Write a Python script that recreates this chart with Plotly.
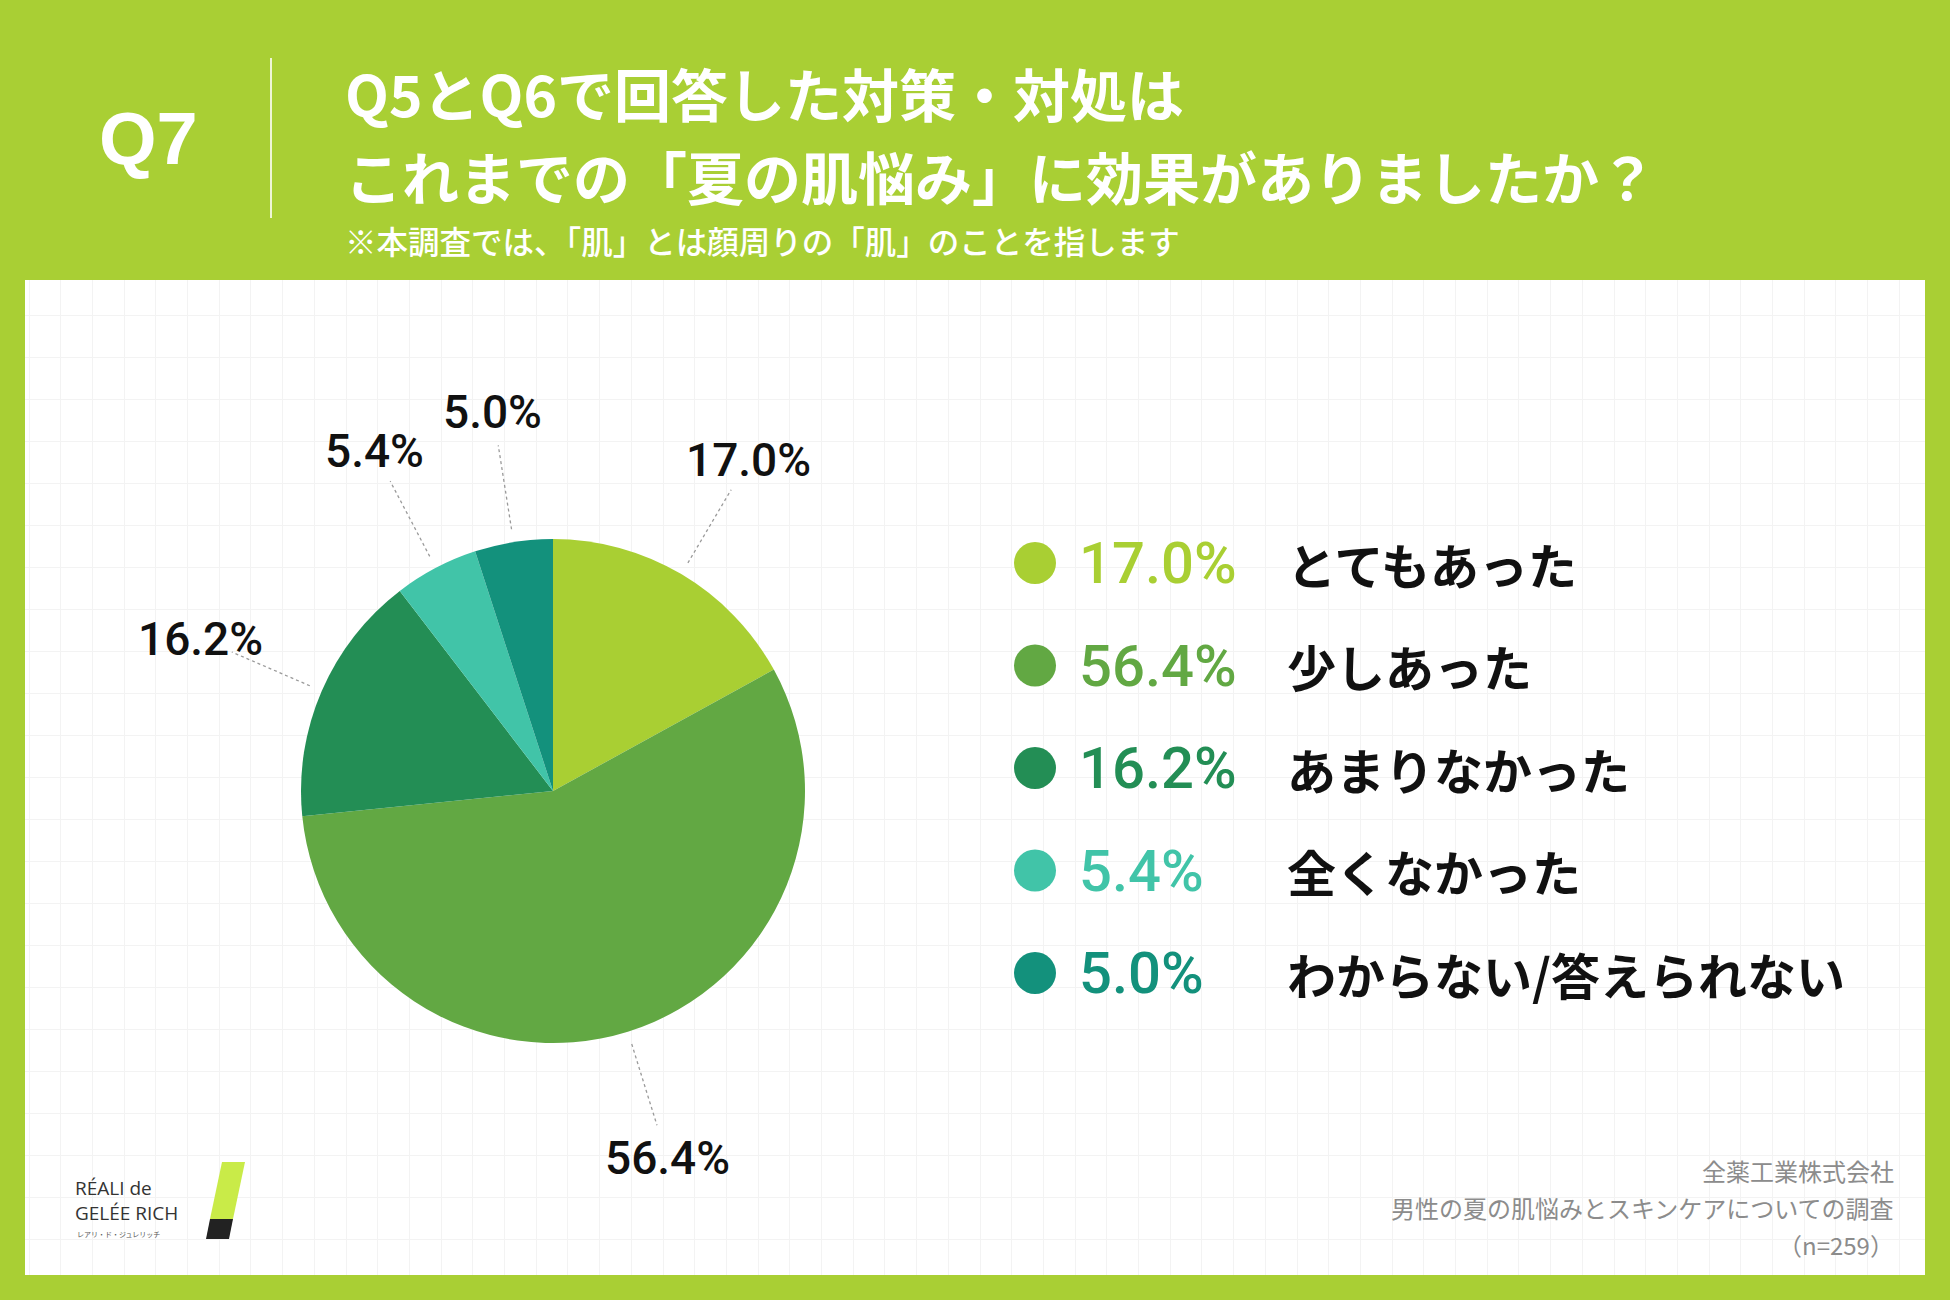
import math
import plotly.graph_objects as go

W, H = 1950, 1300

# data
categories = ["とてもあった", "少しあった", "あまりなかった", "全くなかった", "わからない/答えられない"]
values = [17.0, 56.4, 16.2, 5.4, 5.0]
colors = ["#A9CF33", "#62A843", "#238E55", "#41C4A8", "#13917C"]

title_q = "Q7"
title_lines = ["Q5とQ6で回答した対策・対処は", "これまでの「夏の肌悩み」に効果がありましたか？"]
subtitle = "※本調査では、「肌」とは顔周りの「肌」のことを指します"
footer_lines = ["全薬工業株式会社", "男性の夏の肌悩みとスキンケアについての調査", "（n=259）"]

BG = "#A9CF34"
JP = "Noto Sans CJK JP"
NUM = "Roboto"


def px(x):
    return x / W


def py(y):
    return 1 - y / H


# pie geometry in pixels
cx, cy, R = 553, 791, 252

fig = go.Figure()

fig.add_trace(go.Pie(
    values=values,
    labels=categories,
    marker=dict(colors=colors),
    sort=False,
    direction="clockwise",
    rotation=0,
    textinfo="none",
    hoverinfo="label+percent",
    showlegend=False,
    domain=dict(x=[px(cx - R), px(cx + R)], y=[py(cy + R), py(cy - R)]),
))

# outside labels with dotted leader lines
annotations = []
total = sum(values)
lx, ly = [], []
cum = 0
for v in values:
    mid = (cum + v / 2) / total * 2 * math.pi
    cum += v
    s, c = math.sin(mid), math.cos(mid)
    lx += [cx + 265 * s, cx + 350 * s, None]
    ly += [cy - 265 * c, cy - 350 * c, None]
    annotations.append(dict(
        x=cx + 384 * s, y=cy - 384 * c, xref="x", yref="y",
        xanchor="center", yanchor="middle",
        text=f"{v:.1f}%", showarrow=False,
        font=dict(family=NUM, size=46, color="#111111", weight=500),
    ))
fig.add_trace(go.Scatter(
    x=lx, y=ly, mode="lines",
    line=dict(color="#9a9a9a", width=1.3, dash="dot"),
    hoverinfo="skip", showlegend=False,
))

# legend on the right
row_y = [563 + i * 102.5 for i in range(len(categories))]
fig.add_trace(go.Scatter(
    x=[1035] * len(categories), y=row_y, mode="markers",
    marker=dict(size=42, color=colors, line=dict(width=0)),
    hoverinfo="skip", showlegend=False,
))
for cat, v, col, y in zip(categories, values, colors, row_y):
    annotations.append(dict(
        x=1077, y=y, xref="x", yref="y", xanchor="left", yanchor="middle",
        text=f"{v:.1f}%", showarrow=False,
        font=dict(family=NUM, size=58, color=col, weight=500),
    ))
    annotations.append(dict(
        x=1285, y=y, xref="x", yref="y", xanchor="left", yanchor="middle",
        text=cat, showarrow=False,
        font=dict(family=JP, size=49, color="#111111", weight="bold"),
    ))

# header
annotations.append(dict(
    x=px(148), y=py(138), xref="paper", yref="paper", xanchor="center", yanchor="middle",
    text=title_q, showarrow=False,
    font=dict(family="Liberation Sans", size=74, color="white", weight="bold"),
))
for y, line in zip([92, 175], title_lines):
    annotations.append(dict(
        x=px(344), y=py(y), xref="paper", yref="paper", xanchor="left", yanchor="middle",
        text=line, showarrow=False, borderpad=0,
        font=dict(family=JP, size=57, color="white", weight="bold"),
    ))
annotations.append(dict(
    x=px(344), y=py(240), xref="paper", yref="paper", xanchor="left", yanchor="middle",
    text=subtitle, showarrow=False, borderpad=0,
    font=dict(family=JP, size=31.5, color="white", weight=500),
))

# footer
for i, line in enumerate(footer_lines):
    annotations.append(dict(
        x=1895, y=1170 + i * 37, xref="x", yref="y", xanchor="right", yanchor="middle",
        text=line, showarrow=False, borderpad=0,
        font=dict(family=JP, size=24, color="#8c8c8c"),
    ))

# logo
annotations.append(dict(x=74, y=1200, xref="x", yref="y", xanchor="left", yanchor="middle",
                        text="RÉALI de<br>GELÉE RICH", align="left", showarrow=False, borderpad=0,
                        font=dict(family="Open Sans", size=19, color="#333333")))
annotations.append(dict(x=76, y=1234, xref="x", yref="y", xanchor="left", yanchor="middle",
                        text="レアリ・ド・ジュレリッチ", showarrow=False, borderpad=0,
                        font=dict(family=JP, size=7, color="#555555")))

shapes = [
    dict(type="line", xref="paper", yref="paper", x0=px(271), x1=px(271), y0=py(58), y1=py(218),
         line=dict(color="rgba(255,255,255,0.8)", width=2)),
    dict(type="path", xref="x", yref="y", path="M 222 1162 L 245 1162 L 233 1219 L 210 1219 Z",
         fillcolor="#C9EB48", line=dict(width=0)),
    dict(type="path", xref="x", yref="y", path="M 210 1219 L 233 1219 L 229 1239 L 206 1239 Z",
         fillcolor="#222222", line=dict(width=0)),
]

fig.update_layout(
    width=W, height=H,
    margin=dict(l=0, r=0, t=0, b=0),
    paper_bgcolor=BG,
    plot_bgcolor="white",
    annotations=annotations,
    shapes=shapes,
    xaxis=dict(domain=[px(25), px(1925)], range=[25, 1925], showgrid=True, gridcolor="#F3F3F3",
               tick0=29, dtick=31.7, showticklabels=False, zeroline=False, fixedrange=True),
    yaxis=dict(domain=[py(1275), py(280)], range=[1275, 280], showgrid=True, gridcolor="#F3F3F3",
               tick0=315, dtick=42, showticklabels=False, zeroline=False, fixedrange=True),
)

# drop the browser's default page margin so the figure sits at the window corner
fig.write_html("out.html", config={"displayModeBar": False},
               post_script="document.body.style.margin='0px';")
